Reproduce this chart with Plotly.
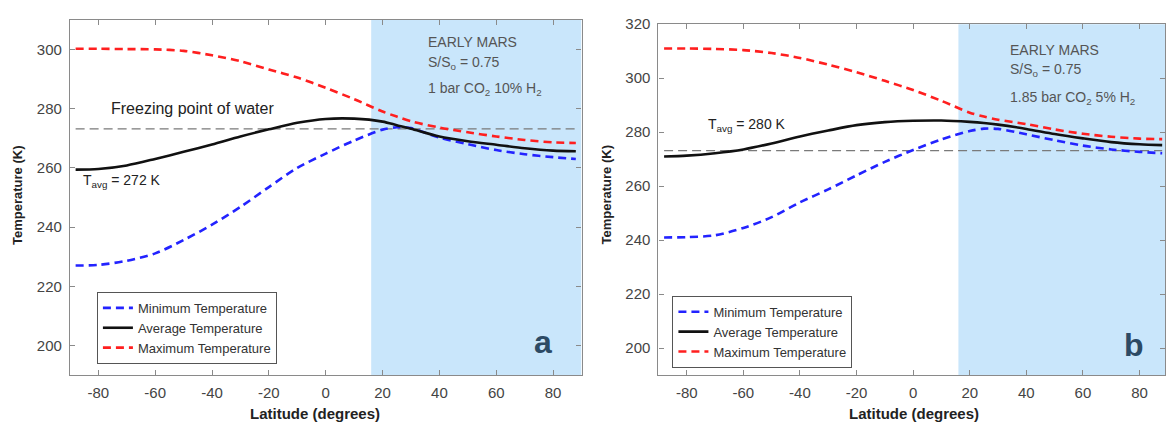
import plotly.graph_objects as go

# ---------------- data ----------------
lat = [-88, -80, -70, -60, -50, -40, -30, -20, -10, 0, 10, 20, 25, 30, 40, 50, 60, 70, 80, 88]

min_a = [227.0, 227.2, 228.6, 231.1, 235.6, 240.8, 246.8, 253.5, 260.0, 264.8, 269.2, 272.9, 273.7, 273.4, 270.2, 268.0, 266.0, 264.6, 263.6, 263.0]
avg_a = [259.4, 259.6, 260.8, 263.0, 265.4, 267.9, 270.6, 273.0, 275.2, 276.5, 276.6, 275.6, 274.4, 273.2, 270.6, 269.0, 267.8, 266.6, 265.8, 265.6]
max_a = [300.2, 300.2, 300.1, 300.0, 299.5, 298.0, 296.0, 293.2, 290.5, 287.0, 283.2, 279.0, 277.3, 275.7, 273.6, 272.0, 270.6, 269.4, 268.6, 268.4]

min_b = [241.0, 241.1, 241.8, 244.5, 248.5, 254.0, 258.8, 264.0, 269.0, 273.4, 277.3, 280.4, 281.3, 281.2, 279.2, 277.0, 275.0, 273.6, 272.7, 272.2]
avg_b = [271.0, 271.3, 272.2, 273.6, 275.8, 278.4, 280.6, 282.6, 283.7, 284.2, 284.3, 283.8, 283.4, 282.8, 281.2, 279.3, 277.7, 276.3, 275.5, 275.2]
max_b = [311.0, 311.0, 310.8, 310.4, 309.3, 307.5, 305.0, 302.2, 299.0, 295.6, 291.6, 287.2, 285.8, 284.6, 283.0, 281.0, 279.4, 278.3, 277.6, 277.4]

freezing_point = 273.15
freeze_lat = [-88, 88]
shade_start = 16
shade_end = 90

x_ticks = [-80, -60, -40, -20, 0, 20, 40, 60, 80]
x_ticktext = ["-80", "-60", "-40", "-20", "0", "20", "40", "60", "80"]
y_ticks_a = [200, 220, 240, 260, 280, 300]
y_ticks_b = [200, 220, 240, 260, 280, 300, 320]

series_names = ["Minimum Temperature", "Average Temperature", "Maximum Temperature"]

# ---------------- styles ----------------
FONT = "Arial, Liberation Sans, Helvetica, sans-serif"
RED = "#ff1f1f"
BLUE = "#2323ff"
BLACK = "#111111"
SHADE = "#c9e6fb"
AXC = "#8a8a8a"
TXT = "#444444"

fig = go.Figure()

def add_panel(xa, ya, mins, avgs, maxs, legend):
    styles = [(mins, BLUE, "8px,5px"), (avgs, BLACK, "solid"), (maxs, RED, "8px,5px")]
    fig.add_trace(go.Scatter(x=freeze_lat, y=[freezing_point] * 2, mode="lines",
                             line=dict(color="#7a7a7a", width=1.2, dash="9px,5px"),
                             showlegend=False, hoverinfo="skip", xaxis=xa, yaxis=ya))
    for (vals, col, dash), name in zip(styles, series_names):
        fig.add_trace(go.Scatter(x=lat, y=vals, mode="lines", name=name,
                                 line=dict(color=col, width=2.6, dash=dash, shape="spline", smoothing=0.8),
                                 xaxis=xa, yaxis=ya, legend=legend))

add_panel("x", "y", min_a, avg_a, max_a, "legend")
add_panel("x2", "y2", min_b, avg_b, max_b, "legend2")

W, H = 1166, 426
ax_common = dict(showline=True, linecolor=AXC, linewidth=1.2, mirror="allticks",
                 ticks="inside", ticklen=5, tickwidth=1, tickcolor=AXC,
                 showgrid=False, zeroline=False, ticklabelstandoff=4,
                 tickfont=dict(family=FONT, size=15, color=TXT))

fig.update_layout(
    width=W, height=H,
    margin=dict(l=0, r=0, t=0, b=0),
    paper_bgcolor="white", plot_bgcolor="white",
    font=dict(family=FONT),
    xaxis=dict(domain=[70 / W, 582 / W], range=[-90, 90], tickvals=x_ticks, ticktext=x_ticktext,
               anchor="y", **ax_common),
    yaxis=dict(domain=[(H - 374) / H, (H - 11) / H], range=[190, 310], tickvals=y_ticks_a,
               anchor="x", **ax_common),
    xaxis2=dict(domain=[659 / W, 1.0], range=[-90, 89], tickvals=x_ticks, ticktext=x_ticktext,
                anchor="y2", **ax_common),
    yaxis2=dict(domain=[(H - 374) / H, (H - 15.5) / H], range=[190, 320], tickvals=y_ticks_b,
                anchor="x2", **ax_common),
    legend=dict(x=97 / W, y=(H - 289) / H, xanchor="left", yanchor="top",
                bgcolor="white", bordercolor="#555", borderwidth=1,
                font=dict(family=FONT, size=13, color="#333")),
    legend2=dict(x=673 / W, y=(H - 293) / H, xanchor="left", yanchor="top",
                 bgcolor="white", bordercolor="#555", borderwidth=1,
                 font=dict(family=FONT, size=13, color="#333")),
    showlegend=True,
)

# shaded regions
for xr, yr in [("x", "y domain"), ("x2", "y2 domain")]:
    fig.add_shape(type="rect", xref=xr, yref=yr, x0=shade_start, x1=shade_end, y0=0, y1=1,
                  fillcolor=SHADE, line=dict(width=0), layer="below")

ann = []
def A(text, x, y, xref, yref, size=14, color=TXT, bold=False, xanchor="left", yanchor="middle", angle=0):
    if bold:
        text = "<b>" + text + "</b>"
    ann.append(dict(text=text, x=x, y=y, xref=xref, yref=yref, showarrow=False,
                    xanchor=xanchor, yanchor=yanchor, textangle=angle,
                    font=dict(family=FONT, size=size, color=color)))

# axis titles
A("Latitude (degrees)", 315 / W, (H - 413) / H, "paper", "paper", size=15, color="#222", bold=True, xanchor="center")
A("Latitude (degrees)", 915 / W, (H - 413) / H, "paper", "paper", size=15, color="#222", bold=True, xanchor="center")
A("Temperature (K)", 18 / W, (H - 190) / H, "paper", "paper", size=13, color="#222", bold=True, xanchor="center", angle=-90)
A("Temperature (K)", 608 / W, (H - 190) / H, "paper", "paper", size=13, color="#222", bold=True, xanchor="center", angle=-90)

# panel a texts
A("Freezing point of water", -47, 280.2, "x", "y", size=16, color="#222", xanchor="center")
A("T<sub>avg</sub> = 272 K", -86, 255.5, "x", "y", size=14, color="#222")
A("EARLY MARS", 35.4, 302.6, "x", "y", size=14, color="#555")
A("S/S<sub>o</sub> = 0.75", 35.4, 295.5, "x", "y", size=14, color="#555")
A("1 bar CO<sub>2</sub> 10% H<sub>2</sub>", 35.4, 286.5, "x", "y", size=14, color="#555")
A("a", 543 / W, (H - 340) / H, "paper", "paper", size=32, color="#2c4a64", bold=True, xanchor="center")

# panel b texts
A("T<sub>avg</sub> = 280 K", -73.3, 282.8, "x2", "y2", size=14, color="#222")
A("EARLY MARS", 33.6, 310.6, "x2", "y2", size=14, color="#555")
A("S/S<sub>o</sub> = 0.75", 33.6, 303.0, "x2", "y2", size=14, color="#555")
A("1.85 bar CO<sub>2</sub> 5% H<sub>2</sub>", 33.6, 292.8, "x2", "y2", size=14, color="#555")
A("b", 1135 / W, (H - 343) / H, "paper", "paper", size=32, color="#2c4a64", bold=True, xanchor="center")

fig.update_layout(annotations=ann)

fig.write_html("out.html", config={"displayModeBar": False},
               post_script="document.body.style.margin='0';document.body.style.overflow='hidden';")
